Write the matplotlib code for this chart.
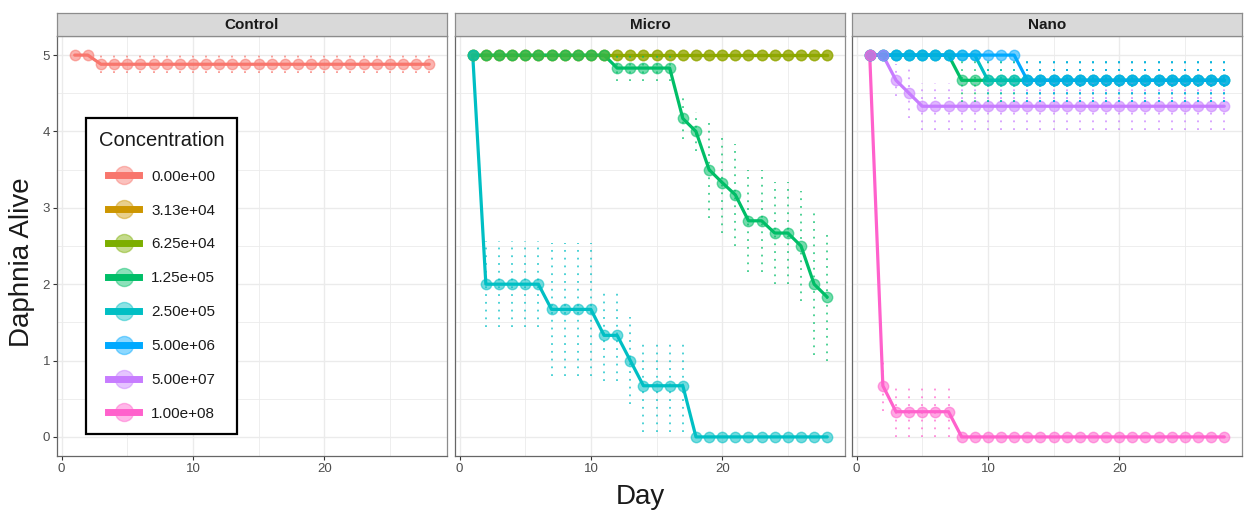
import matplotlib
matplotlib.use("Agg")
import matplotlib.pyplot as plt
from matplotlib.lines import Line2D
from matplotlib.legend_handler import HandlerTuple

plt.rcParams['font.family'] = ['Liberation Sans', 'DejaVu Sans']

# ---------------- data ----------------
days = [1, 2, 3, 4, 5, 6, 7, 8, 9, 10, 11, 12, 13, 14,
        15, 16, 17, 18, 19, 20, 21, 22, 23, 24, 25, 26, 27, 28]

facets = ["Control", "Micro", "Nano"]
concentrations = ["0.00e+00", "3.13e+04", "6.25e+04", "1.25e+05",
                  "2.50e+05", "5.00e+06", "5.00e+07", "1.00e+08"]
colors = ["#F8766D", "#CD9600", "#7CAE00", "#00BE67",
          "#00BFC4", "#00A9FF", "#C77CFF", "#FF61CC"]

# Control, 0.00e+00
ctrl_0_mean = [5, 5, 4.88, 4.88, 4.88, 4.88, 4.88, 4.88, 4.88, 4.88, 4.88, 4.88, 4.88, 4.88,
               4.88, 4.88, 4.88, 4.88, 4.88, 4.88, 4.88, 4.88, 4.88, 4.88, 4.88, 4.88, 4.88, 4.88]
ctrl_0_se = [0, 0, 0.12, 0.12, 0.12, 0.12, 0.12, 0.12, 0.12, 0.12, 0.12, 0.12, 0.12, 0.12,
             0.12, 0.12, 0.12, 0.12, 0.12, 0.12, 0.12, 0.12, 0.12, 0.12, 0.12, 0.12, 0.12, 0.12]

# Micro
micro_313e4_mean = [5, 5, 5, 5, 5, 5, 5, 5, 5, 5, 5, 5, 5, 5,
                    5, 5, 5, 5, 5, 5, 5, 5, 5, 5, 5, 5, 5, 5]
micro_313e4_se = [0, 0, 0, 0, 0, 0, 0, 0, 0, 0, 0, 0, 0, 0,
                  0, 0, 0, 0, 0, 0, 0, 0, 0, 0, 0, 0, 0, 0]
micro_625e4_mean = [5, 5, 5, 5, 5, 5, 5, 5, 5, 5, 5, 5, 5, 5,
                    5, 5, 5, 5, 5, 5, 5, 5, 5, 5, 5, 5, 5, 5]
micro_625e4_se = [0, 0, 0, 0, 0, 0, 0, 0, 0, 0, 0, 0, 0, 0,
                  0, 0, 0, 0, 0, 0, 0, 0, 0, 0, 0, 0, 0, 0]
micro_125e5_mean = [5, 5, 5, 5, 5, 5, 5, 5, 5, 5, 5, 4.83, 4.83, 4.83,
                    4.83, 4.83, 4.17, 4.0, 3.5, 3.33, 3.17, 2.83, 2.83, 2.67, 2.67, 2.5, 2.0, 1.83]
micro_125e5_se = [0, 0, 0, 0, 0, 0, 0, 0, 0, 0, 0, 0.17, 0.17, 0.17,
                  0.17, 0.17, 0.27, 0.26, 0.63, 0.66, 0.67, 0.67, 0.67, 0.67, 0.67, 0.72, 0.93, 0.83]
micro_250e5_mean = [5, 2.0, 2.0, 2.0, 2.0, 2.0, 1.67, 1.67, 1.67, 1.67, 1.33, 1.33, 1.0, 0.67,
                    0.67, 0.67, 0.67, 0, 0, 0, 0, 0, 0, 0, 0, 0, 0, 0]
micro_250e5_se = [0, 0.56, 0.56, 0.56, 0.56, 0.56, 0.87, 0.87, 0.87, 0.87, 0.6, 0.6, 0.57, 0.6,
                  0.6, 0.6, 0.6, 0, 0, 0, 0, 0, 0, 0, 0, 0, 0, 0]

# Nano
nano_125e5_mean = [5, 5, 5, 5, 5, 5, 5, 4.67, 4.67, 4.67, 4.67, 4.67, 4.67, 4.67,
                   4.67, 4.67, 4.67, 4.67, 4.67, 4.67, 4.67, 4.67, 4.67, 4.67, 4.67, 4.67, 4.67, 4.67]
nano_125e5_se = [0, 0, 0, 0, 0, 0, 0, 0.28, 0.28, 0.28, 0.28, 0.28, 0.28, 0.28,
                 0.28, 0.28, 0.28, 0.28, 0.28, 0.28, 0.28, 0.28, 0.28, 0.28, 0.28, 0.28, 0.28, 0.28]
nano_250e5_mean = [5, 5, 5, 5, 5, 5, 5, 5, 5, 4.67, 4.67, 4.67, 4.67, 4.67,
                   4.67, 4.67, 4.67, 4.67, 4.67, 4.67, 4.67, 4.67, 4.67, 4.67, 4.67, 4.67, 4.67, 4.67]
nano_250e5_se = [0, 0, 0, 0, 0, 0, 0, 0, 0, 0.28, 0.28, 0.28, 0.28, 0.28,
                 0.28, 0.28, 0.28, 0.28, 0.28, 0.28, 0.28, 0.28, 0.28, 0.28, 0.28, 0.28, 0.28, 0.28]
nano_500e6_mean = [5, 5, 5, 5, 5, 5, 5, 5, 5, 5, 5, 5, 4.67, 4.67,
                   4.67, 4.67, 4.67, 4.67, 4.67, 4.67, 4.67, 4.67, 4.67, 4.67, 4.67, 4.67, 4.67, 4.67]
nano_500e6_se = [0, 0, 0, 0, 0, 0, 0, 0, 0, 0, 0, 0, 0.28, 0.28,
                 0.28, 0.28, 0.28, 0.28, 0.28, 0.28, 0.28, 0.28, 0.28, 0.28, 0.28, 0.28, 0.28, 0.28]
nano_500e7_mean = [5, 5, 4.67, 4.5, 4.33, 4.33, 4.33, 4.33, 4.33, 4.33, 4.33, 4.33, 4.33, 4.33,
                   4.33, 4.33, 4.33, 4.33, 4.33, 4.33, 4.33, 4.33, 4.33, 4.33, 4.33, 4.33, 4.33, 4.33]
nano_500e7_se = [0, 0, 0.21, 0.32, 0.31, 0.31, 0.31, 0.31, 0.31, 0.31, 0.31, 0.31, 0.31, 0.31,
                 0.31, 0.31, 0.31, 0.31, 0.31, 0.31, 0.31, 0.31, 0.31, 0.31, 0.31, 0.31, 0.31, 0.31]
nano_100e8_mean = [5, 0.67, 0.33, 0.33, 0.33, 0.33, 0.33, 0, 0, 0, 0, 0, 0, 0,
                   0, 0, 0, 0, 0, 0, 0, 0, 0, 0, 0, 0, 0, 0]
nano_100e8_se = [0, 0.33, 0.33, 0.33, 0.33, 0.33, 0.33, 0, 0, 0, 0, 0, 0, 0,
                 0, 0, 0, 0, 0, 0, 0, 0, 0, 0, 0, 0, 0, 0]

series = [
    ("Control", "0.00e+00", ctrl_0_mean, ctrl_0_se),
    ("Micro", "3.13e+04", micro_313e4_mean, micro_313e4_se),
    ("Micro", "6.25e+04", micro_625e4_mean, micro_625e4_se),
    ("Micro", "1.25e+05", micro_125e5_mean, micro_125e5_se),
    ("Micro", "2.50e+05", micro_250e5_mean, micro_250e5_se),
    ("Nano", "1.25e+05", nano_125e5_mean, nano_125e5_se),
    ("Nano", "2.50e+05", nano_250e5_mean, nano_250e5_se),
    ("Nano", "5.00e+06", nano_500e6_mean, nano_500e6_se),
    ("Nano", "5.00e+07", nano_500e7_mean, nano_500e7_se),
    ("Nano", "1.00e+08", nano_100e8_mean, nano_100e8_se),
]

# ---------------- figure ----------------
W, H = 1244, 519
fig = plt.figure(figsize=(W / 100, H / 100), dpi=100)

panel_left_px = [57, 455, 852]
panel_w_px = 390
panel_top_px, panel_bot_px = 36, 456
strip_top_px = 13

border_col = "#8C8C8C"
grid_col = "#EBEBEB"
err_style = (0, (1, 3.3))

axes = {}
for name, lpx in zip(facets, panel_left_px):
    ax = fig.add_axes([lpx / W, 1 - panel_bot_px / H, panel_w_px / W,
                       (panel_bot_px - panel_top_px) / H])
    ax.set_xlim(-0.35, 29.35)
    ax.set_ylim(-0.25, 5.25)
    ax.set_xticks([0, 10, 20])
    ax.set_xticks([5, 15, 25], minor=True)
    ax.set_yticks([0, 1, 2, 3, 4, 5])
    ax.set_yticks([0.5, 1.5, 2.5, 3.5, 4.5], minor=True)
    ax.grid(True, which='major', color=grid_col, lw=1.0, zorder=0)
    ax.grid(True, which='minor', color=grid_col, lw=0.6, zorder=0)
    ax.set_axisbelow(True)
    for s in ax.spines.values():
        s.set_color(border_col)
        s.set_linewidth(0.9)
    ax.spines['left'].set_color("#666666")
    ax.spines['bottom'].set_color("#666666")
    ax.tick_params(which='major', direction='out', length=3, width=0.8,
                   color="#333333", labelcolor="#4D4D4D", labelsize=9.5, pad=2)
    ax.tick_params(which='minor', length=0)
    if name != "Control":
        ax.tick_params(axis='y', which='both', length=0, labelleft=False)
    axes[name] = ax

    # strip
    sax = fig.add_axes([lpx / W, 1 - panel_top_px / H, panel_w_px / W,
                        (panel_top_px - strip_top_px) / H])
    sax.set_facecolor("#D9D9D9")
    sax.set_xticks([])
    sax.set_yticks([])
    for s in sax.spines.values():
        s.set_color(border_col)
        s.set_linewidth(0.9)
    sax.text(0.5, 0.48, name, ha='center', va='center', fontsize=11,
             fontweight='bold', color="#1A1A1A", transform=sax.transAxes)

# lines, then points, then error bars (per facet, in concentration order)
for facet in facets:
    ax = axes[facet]
    fs = [s for s in series if s[0] == facet]
    fs.sort(key=lambda s: concentrations.index(s[1]))
    for _, conc, mean, se in fs:
        col = colors[concentrations.index(conc)]
        ax.plot(days, mean, color=col, lw=2.3, zorder=3, solid_capstyle='round')
    for _, conc, mean, se in fs:
        col = colors[concentrations.index(conc)]
        ax.plot(days, mean, ls='none', marker='o', ms=7.5, mfc=col, mec=col,
                alpha=0.55, zorder=4)
    for _, conc, mean, se in fs:
        col = colors[concentrations.index(conc)]
        xs = [d for d, e in zip(days, se) if e > 0]
        lo = [m - e for m, e in zip(mean, se) if e > 0]
        hi = [m + e for m, e in zip(mean, se) if e > 0]
        if xs:
            ax.vlines(xs, lo, hi, colors=col, linestyles=err_style,
                      lw=1.3, alpha=0.75, zorder=5)

# legend
handles = []
for conc, col in zip(concentrations, colors):
    ln = Line2D([], [], color=col, lw=5)
    pt = Line2D([], [], ls='none', marker='o', ms=13, mfc=col, mec=col, alpha=0.45)
    handles.append((ln, pt))
leg = axes["Control"].legend(handles, concentrations, title="Concentration",
                             handler_map={tuple: HandlerTuple(ndivide=1)},
                             loc='upper left', bbox_to_anchor=(0.0744, 0.805),
                             borderaxespad=0, fontsize=11, title_fontsize=14.5,
                             labelspacing=1.3, handlelength=2.0, handletextpad=0.8,
                             borderpad=0.85, fancybox=False, framealpha=1,
                             edgecolor="black")
leg.get_frame().set_linewidth(1.6)
for t in leg.get_texts():
    t.set_color("#1A1A1A")
leg.get_title().set_color("#1A1A1A")
leg.set_zorder(10)

fig.text(0.018, 0.495, "Daphnia Alive", rotation=90, ha='center', va='center',
         fontsize=20, color="#1A1A1A")
fig.text(0.515, 0.042, "Day", ha='center', va='center', fontsize=20, color="#1A1A1A")

fig.savefig("out.png", dpi=100)
